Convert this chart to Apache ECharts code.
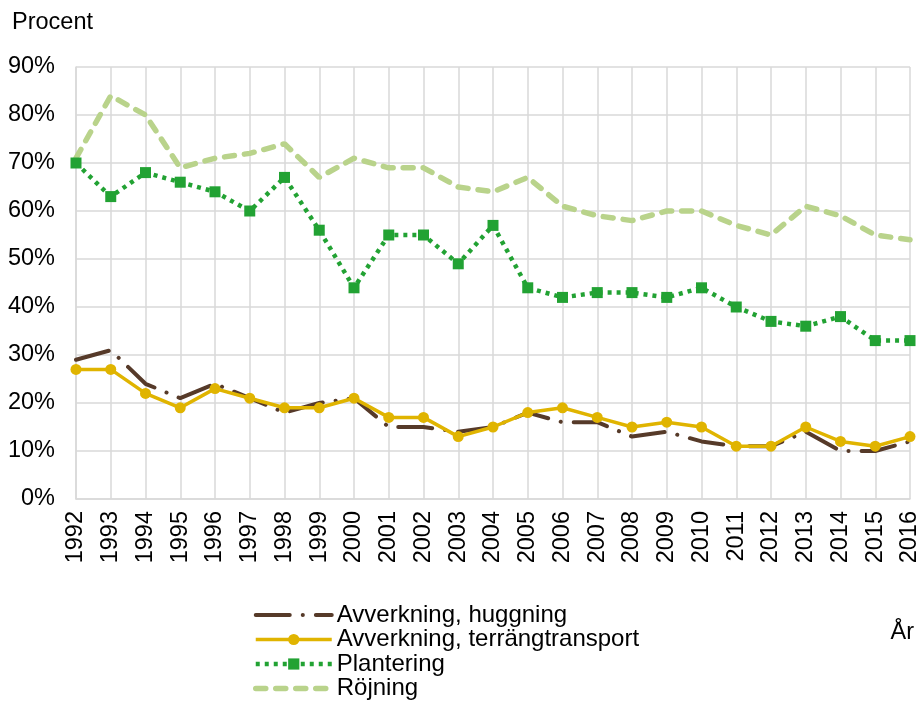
<!DOCTYPE html>
<html>
<head>
<meta charset="utf-8">
<script src="https://cdn.jsdelivr.net/npm/echarts@6/dist/echarts.min.js"></script>
<style>html,body{margin:0;padding:0;background:#fff}#c{width:922px;height:701px}</style>
</head>
<body>
<div id="c"></div>
<script>
var years = ['1992','1993','1994','1995','1996','1997','1998','1999','2000','2001','2002','2003','2004','2005','2006','2007','2008','2009','2010','2011','2012','2013','2014','2015','2016'];
var huggning = [29,31,24,21,24,21,18,20,21,15,15,14,15,18,16,16,13,14,12,11,11,14,10,10,12];
var terrangtransport = [27,27,22,19,23,21,19,19,21,17,17,13,15,18,19,17,15,16,15,11,11,15,12,11,13];
var plantering = [70,63,68,66,64,60,67,56,44,55,55,49,57,44,42,43,43,42,44,40,37,36,38,33,33];
var rojning = [71,84,80,69,71,72,74,67,71,69,69,65,64,67,61,59,58,60,60,57,55,61,59,55,54];
var yTicks = [0,10,20,30,40,50,60,70,80,90];

var FONT = 'Liberation Sans, Arial, sans-serif';
var FS = 23.5;
var chart = echarts.init(document.getElementById('c'));
chart.setOption({
  animation: false,
  backgroundColor: '#fff',
  grid: {left: 76, right: 10, top: 67, bottom: 202, containLabel: false},
  graphic: [
    {type: 'text', left: 12, top: 11, style: {text: 'Procent', font: FS + 'px ' + FONT, fill: '#000'}},
    {type: 'text', right: 8, top: 621, style: {text: 'År', font: FS + 'px ' + FONT, fill: '#000'}}
  ],
  xAxis: {
    type: 'category',
    data: years,
    boundaryGap: false,
    axisLine: {lineStyle: {color: '#d9d9d9', width: 1.5}},
    axisTick: {show: false},
    splitLine: {show: true, lineStyle: {color: '#d9d9d9', width: 1.5}},
    axisLabel: {rotate: 90, margin: 12, color: '#000', fontSize: FS, fontFamily: FONT, interval: 0}
  },
  yAxis: {
    type: 'value',
    min: 0, max: 90, interval: 10,
    axisLine: {show: true, lineStyle: {color: '#d9d9d9', width: 1.5}},
    axisTick: {show: false},
    splitLine: {lineStyle: {color: '#d9d9d9', width: 1.5}},
    axisLabel: {margin: 21, color: '#000', fontSize: FS, fontFamily: FONT,
      formatter: function (v) { return yTicks.indexOf(v) >= 0 ? v + '%' : ''; }}
  },
  legend: {
    orient: 'vertical',
    left: 253,
    top: 603,
    height: 120,
    padding: 0,
    itemWidth: 76,
    itemHeight: 14,
    itemGap: 0.5,
    textStyle: {fontSize: 24, fontFamily: FONT, color: '#000', lineHeight: 24},
    data: [
      {name: 'Avverkning, huggning', itemStyle: {opacity: 0}, lineStyle: {width: 4}},
      {name: 'Avverkning, terrängtransport', lineStyle: {width: 3.5}},
      {name: 'Plantering', lineStyle: {width: 4.5}},
      {name: 'Röjning', itemStyle: {opacity: 0}, lineStyle: {width: 5.5}}
    ]
  },
  series: [
    {
      name: 'Röjning', type: 'line', data: rojning, symbol: 'none', z: 1,
      lineStyle: {color: '#b9d38b', width: 5.5, type: [10, 10], cap: 'round'},
      itemStyle: {color: '#b9d38b'}
    },
    {
      name: 'Plantering', type: 'line', data: plantering, symbol: 'rect', symbolSize: 11, z: 2,
      lineStyle: {color: '#22a233', width: 4.5, type: [4, 5], cap: 'butt'},
      itemStyle: {color: '#22a233'}
    },
    {
      name: 'Avverkning, huggning', type: 'line', data: huggning, symbol: 'none', z: 3,
      lineStyle: {color: '#563a29', width: 4, type: [34, 13, 0.1, 13], cap: 'round'},
      itemStyle: {color: '#563a29'}
    },
    {
      name: 'Avverkning, terrängtransport', type: 'line', data: terrangtransport, symbol: 'circle', symbolSize: 11, z: 4,
      lineStyle: {color: '#e0b400', width: 3.5},
      itemStyle: {color: '#e0b400'}
    }
  ]
});
</script>
</body>
</html>
